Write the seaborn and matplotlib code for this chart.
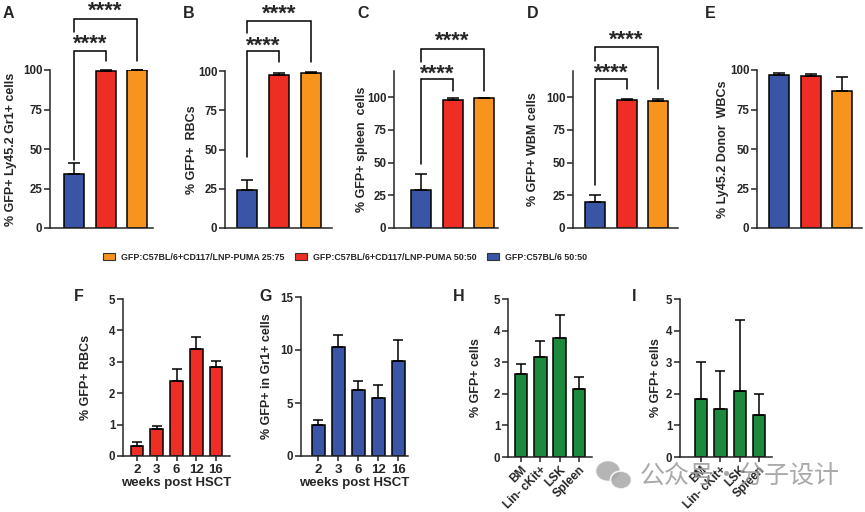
import numpy as np
import pandas as pd
import matplotlib
matplotlib.use("Agg")
import matplotlib.pyplot as plt
import seaborn as sns
from matplotlib import font_manager
from matplotlib.patches import Patch, Ellipse

# ---------------- data ----------------
groups = ["GFP:C57BL/6 50:50",
          "GFP:C57BL/6+CD117/LNP-PUMA 50:50",
          "GFP:C57BL/6+CD117/LNP-PUMA 25:75"]
group_colors = ["#3A55A5", "#EE2E24", "#F7941E"]
legend_order = [2, 1, 0]

a_vals = [34.0, 99.5, 100.0]
a_err = [7.0, 0.4, 0.2]
b_vals = [24.5, 97.5, 99.0]
b_err = [6.0, 1.5, 0.6]
c_vals = [29.0, 98.0, 99.0]
c_err = [12.0, 1.5, 0.6]
d_vals = [19.5, 97.5, 97.0]
d_err = [6.0, 1.3, 1.3]
e_vals = [97.0, 96.5, 87.0]
e_err = [1.0, 1.0, 8.5]
sig_label = "****"

weeks = ["2", "3", "6", "12", "16"]
f_vals = [0.33, 0.85, 2.40, 3.40, 2.83]
f_err = [0.10, 0.10, 0.37, 0.40, 0.18]
g_vals = [2.9, 10.3, 6.2, 5.5, 9.0]
g_err = [0.5, 1.1, 0.85, 1.2, 1.9]

tissues = ["BM", "Lin- cKit+", "LSK", "Spleen"]
h_vals = [2.62, 3.17, 3.77, 2.15]
h_err = [0.33, 0.50, 0.72, 0.37]
i_vals = [1.83, 1.53, 2.10, 1.33]
i_err = [1.19, 1.20, 2.22, 0.65]

red = "#EE2E24"
blue = "#3A55A5"
green = "#1B8A3F"

# ---------------- style ----------------
sns.set_theme(style="ticks")
avail = {f.name for f in font_manager.fontManager.ttflist}
base_font = "Liberation Sans" if "Liberation Sans" in avail else "DejaVu Sans"
narrow_font = "Liberation Sans Narrow" if "Liberation Sans Narrow" in avail else base_font
plt.rcParams["font.family"] = [base_font, "DejaVu Sans"]
plt.rcParams["font.weight"] = "bold"
plt.rcParams["axes.labelweight"] = "bold"
plt.rcParams["axes.linewidth"] = 1.1

W, H = 865, 512
fig = plt.figure(figsize=(W / 100, H / 100), dpi=100)
fig.patch.set_facecolor("white")


def px_axes(l, r, t, b):
    return fig.add_axes([l / W, 1 - b / H, (r - l) / W, (b - t) / H])


def bar_panel(ax, cats, vals, errs, palette, width, capsize, ylim, yticks,
              xlim, ylabel, ylab_px, l, r, xticks=False, rot=0, xlabel=None):
    df = pd.DataFrame({"cat": cats, "val": vals})
    sns.barplot(data=df, x="cat", y="val", hue="cat", order=cats,
                hue_order=cats, palette=palette, width=width, saturation=1,
                edgecolor="black", linewidth=1.1, legend=False,
                errorbar=None, ax=ax, zorder=2)
    n = len(cats)
    cont = ax.errorbar(np.arange(n), vals, yerr=[np.zeros(n), errs],
                       fmt="none", ecolor="black", elinewidth=1.1,
                       capsize=capsize, capthick=1.1, zorder=3)
    for art in cont.get_children():
        art.set_clip_on(False)
    ax.set_ylim(*ylim)
    ax.set_yticks(yticks)
    ax.set_xlim(*xlim)
    sns.despine(ax=ax)
    ax.spines["left"].set_linewidth(1.1)
    ax.spines["bottom"].set_linewidth(1.1)
    ax.tick_params(axis="y", direction="out", length=4, width=1.1,
                   labelsize=8.3, pad=1.5)
    for t in ax.get_yticklabels():
        t.set_fontweight("bold")
    if xticks:
        ax.tick_params(axis="x", direction="out", length=3.5, width=1.1,
                       labelsize=9.5, pad=2)
        if rot:
            ax.set_xticks(range(n))
            ax.set_xticklabels(cats, rotation=rot, ha="right",
                               rotation_mode="anchor", fontweight="bold",
                               fontsize=8.6)
            ax.tick_params(axis="x", pad=1.5)
        else:
            for t in ax.get_xticklabels():
                t.set_fontweight("bold")
    else:
        ax.tick_params(axis="x", length=0, labelbottom=False)
    ax.set_xlabel(xlabel if xlabel else "", fontsize=9.5, fontweight="bold",
                  labelpad=1)
    ax.set_ylabel(ylabel, fontsize=9, fontweight="bold", va="center")
    ax.yaxis.set_label_coords((ylab_px - l) / (r - l), 0.5)


def brackets(ax, low_y, up_y, low_left_end, right_end, low_star, up_star,
             up_left_end):
    kw = dict(color="black", lw=1.1, clip_on=False, solid_joinstyle="miter")
    ax.plot([0, 0, 1, 1], [low_left_end, low_y, low_y, right_end], **kw)
    ax.plot([0, 0, 2, 2], [up_left_end, up_y, up_y, right_end], **kw)
    for xc, yc in [(0.5, low_star), (1.0, up_star)]:
        ax.annotate(sig_label, (xc, yc), xytext=(0, -7.3),
                    textcoords="offset points", ha="center", va="baseline",
                    fontsize=16, fontweight="bold", annotation_clip=False)


# ---------------- top row ----------------
top = [
    (a_vals, a_err, 50, 153, 70, (0, 100), (-0.76, 2.5),
     "% GFP+ Ly45.2 Gr1+ cells", 11, (112, 132, 43, 105.5, 119, 140, 124)),
    (b_vals, b_err, 225, 332, 71, (0, 100), (-0.69, 2.66),
     "% GFP+  RBCs", 192, (112.7, 132, 45, 106, 118.5, 139, 124)),
    (c_vals, c_err, 394, 498, 71, (0, 120), (-0.86, 2.44),
     "% GFP+ spleen  cells", 362, (114, 137, 49, 105, 121, 146, 127)),
    (d_vals, d_err, 573, 678, 71, (0, 120), (-0.70, 2.63),
     "% GFP+ WBM cells", 533, (114, 138, 33, 106, 122, 147, 128)),
    (e_vals, e_err, 757, 862, 70, (0, 100), (-0.70, 2.63),
     "% Ly45.2 Donor  WBCs", 723, None),
]
for vals, errs, l, r, t, ylim, xlim, ylab, ylab_px, br in top:
    ax = px_axes(l, r, t, 228)
    bar_panel(ax, groups, vals, errs, group_colors, 0.63, 4.5, ylim,
              [0, 25, 50, 75, 100], xlim, ylab, ylab_px, l, r)
    if br:
        brackets(ax, *br)

# ---------------- legend ----------------
handles = [Patch(facecolor=group_colors[k], edgecolor="#333333", linewidth=0.8)
           for k in legend_order]
labels = [groups[k] for k in legend_order]
fig.legend(handles, labels, loc="center", bbox_to_anchor=(345 / W, 1 - 257 / H),
           ncol=3, frameon=False,
           prop={"family": narrow_font, "weight": "bold", "size": 6.4},
           handlelength=1.35, handleheight=0.9, handletextpad=0.7,
           columnspacing=1.15)

# ---------------- bottom row ----------------
axF = px_axes(123, 230, 299, 456)
bar_panel(axF, weeks, f_vals, f_err, [red] * 5, 0.65, 3.5, (0, 5),
          [0, 1, 2, 3, 4, 5], (-0.71, 4.71), "% GFP+ RBCs", 86, 123, 230,
          xticks=True, xlabel="weeks post HSCT")
axG = px_axes(301, 408, 297, 456)
bar_panel(axG, weeks, g_vals, g_err, [blue] * 5, 0.65, 3.5, (0, 15),
          [0, 5, 10, 15], (-0.85, 4.5), "% GFP+ in Gr1+ cells", 267, 301, 408,
          xticks=True, xlabel="weeks post HSCT")
axH = px_axes(508, 592, 299, 457)
bar_panel(axH, tissues, h_vals, h_err, [green] * 4, 0.64, 3.5, (0, 5),
          [0, 1, 2, 3, 4, 5], (-0.67, 3.67), "% GFP+ cells", 476, 508, 592,
          xticks=True, rot=45)
axI = px_axes(680, 772, 299, 457)
bar_panel(axI, tissues, i_vals, i_err, [green] * 4, 0.64, 3.5, (0, 5),
          [0, 1, 2, 3, 4, 5], (-1.09, 3.67), "% GFP+ cells", 656, 680, 772,
          xticks=True, rot=45)

# ---------------- panel letters ----------------
for letter, x, y in [("A", 3, 6), ("B", 183, 6), ("C", 357, 6), ("D", 527, 6),
                     ("E", 705, 6), ("F", 74, 289), ("G", 259, 289),
                     ("H", 453, 289), ("I", 632, 289)]:
    fig.text(x / W, 1 - y / H, letter, ha="left", va="top", fontsize=11.5,
             fontweight="bold", family=narrow_font)

# ---------------- watermark ----------------
for (cx, cy, w, h) in [(608, 471, 25, 21), (621, 480, 21, 18)]:
    fig.add_artist(Ellipse((cx / W, 1 - cy / H), w / W, h / H,
                           transform=fig.transFigure, facecolor="#a8a8a8",
                           edgecolor="white", linewidth=1.2, alpha=0.85,
                           zorder=10))
fig.text(640 / W, 1 - 476 / H, "公众号·分子设计", ha="left", va="center",
         fontsize=18, color="#9a9a9a", alpha=0.85,
         family=["Noto Sans CJK SC", "DejaVu Sans"], fontweight="normal",
         zorder=10)

fig.savefig("out.png", dpi=100)
